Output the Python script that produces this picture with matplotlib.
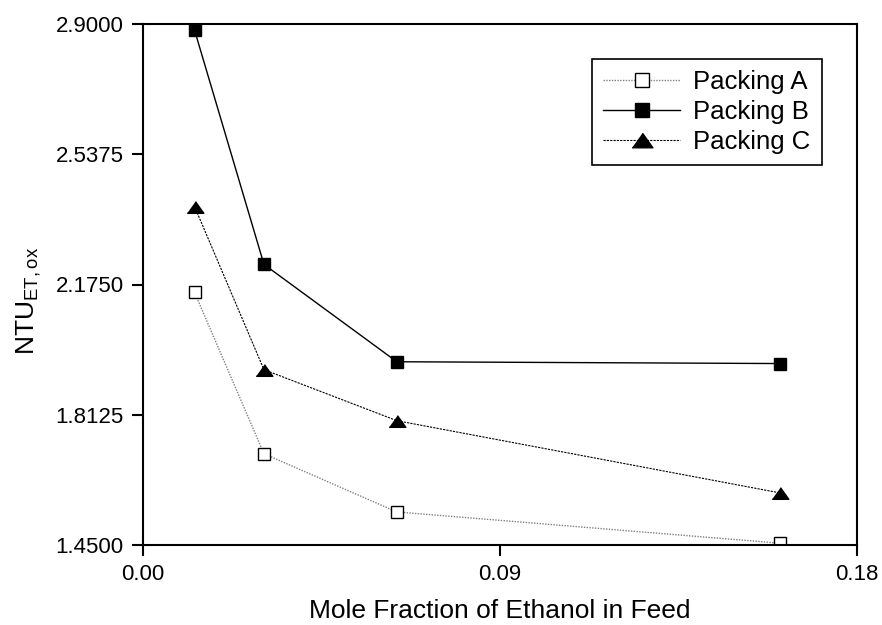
import matplotlib.pyplot as plt
import numpy as np

plt.rcParams['font.family'] = ['Liberation Sans', 'DejaVu Sans']
plt.rcParams['mathtext.fontset'] = 'custom'
plt.rcParams['mathtext.rm'] = 'Liberation Sans'

x = [0.013, 0.0305, 0.064, 0.1606]
packing_a = [2.153, 1.704, 1.542, 1.455]
packing_b = [2.883, 2.231, 1.960, 1.955]
packing_c = [2.392, 1.938, 1.796, 1.595]

yticks = [1.45, 1.8125, 2.175, 2.5375, 2.90]
xticks = [0.00, 0.09, 0.18]

# wide flat triangle like the original
tri = [(-1, -0.7), (1, -0.7), (0, 0.7)]

fig = plt.figure(figsize=(8.82, 6.25), dpi=100)
ax = fig.add_axes([0.1621, 0.128, 0.8095, 0.8336])

ax.plot(x, packing_a, color='#808080', linestyle=(0, (1, 1)), linewidth=1.0,
        marker='s', markersize=8, markerfacecolor='white',
        markeredgecolor='black', markeredgewidth=1.0, label='Packing A')
ax.plot(x, packing_b, color='black', linestyle='-', linewidth=1.0,
        marker='s', markersize=8, markerfacecolor='black',
        markeredgecolor='black', label='Packing B')
ax.plot(x, packing_c, color='black', linestyle=(0, (2, 1)), linewidth=0.8,
        marker=tri, markersize=12, markerfacecolor='black',
        markeredgecolor='black', label='Packing C')

ax.set_xlim(0, 0.18)
ax.set_ylim(1.45, 2.90)
ax.set_xticks(xticks)
ax.set_xticklabels([f"{v:.2f}" for v in xticks])
ax.set_yticks(yticks)
ax.set_yticklabels([f"{v:.4f}" for v in yticks])

for s in ax.spines.values():
    s.set_linewidth(1.5)
ax.tick_params(direction='out', length=8, width=1.5, labelsize=16, pad=6)

ax.set_xlabel("Mole Fraction of Ethanol in Feed", fontsize=19, labelpad=10)
ax.set_ylabel("NTU$_{\\mathregular{ET,ox}}$", fontsize=19)
ax.yaxis.set_label_coords(-0.14, 0.468)

leg = ax.legend(loc='upper right', bbox_to_anchor=(0.951, 0.933),
                borderaxespad=0, fontsize=18.5, markerscale=1.25,
                frameon=True, fancybox=False, edgecolor='black',
                framealpha=1, handlelength=3.0, borderpad=0.45,
                labelspacing=0.22, handletextpad=0.5)
leg.get_frame().set_linewidth(1.2)

plt.savefig("out.png", dpi=100)
